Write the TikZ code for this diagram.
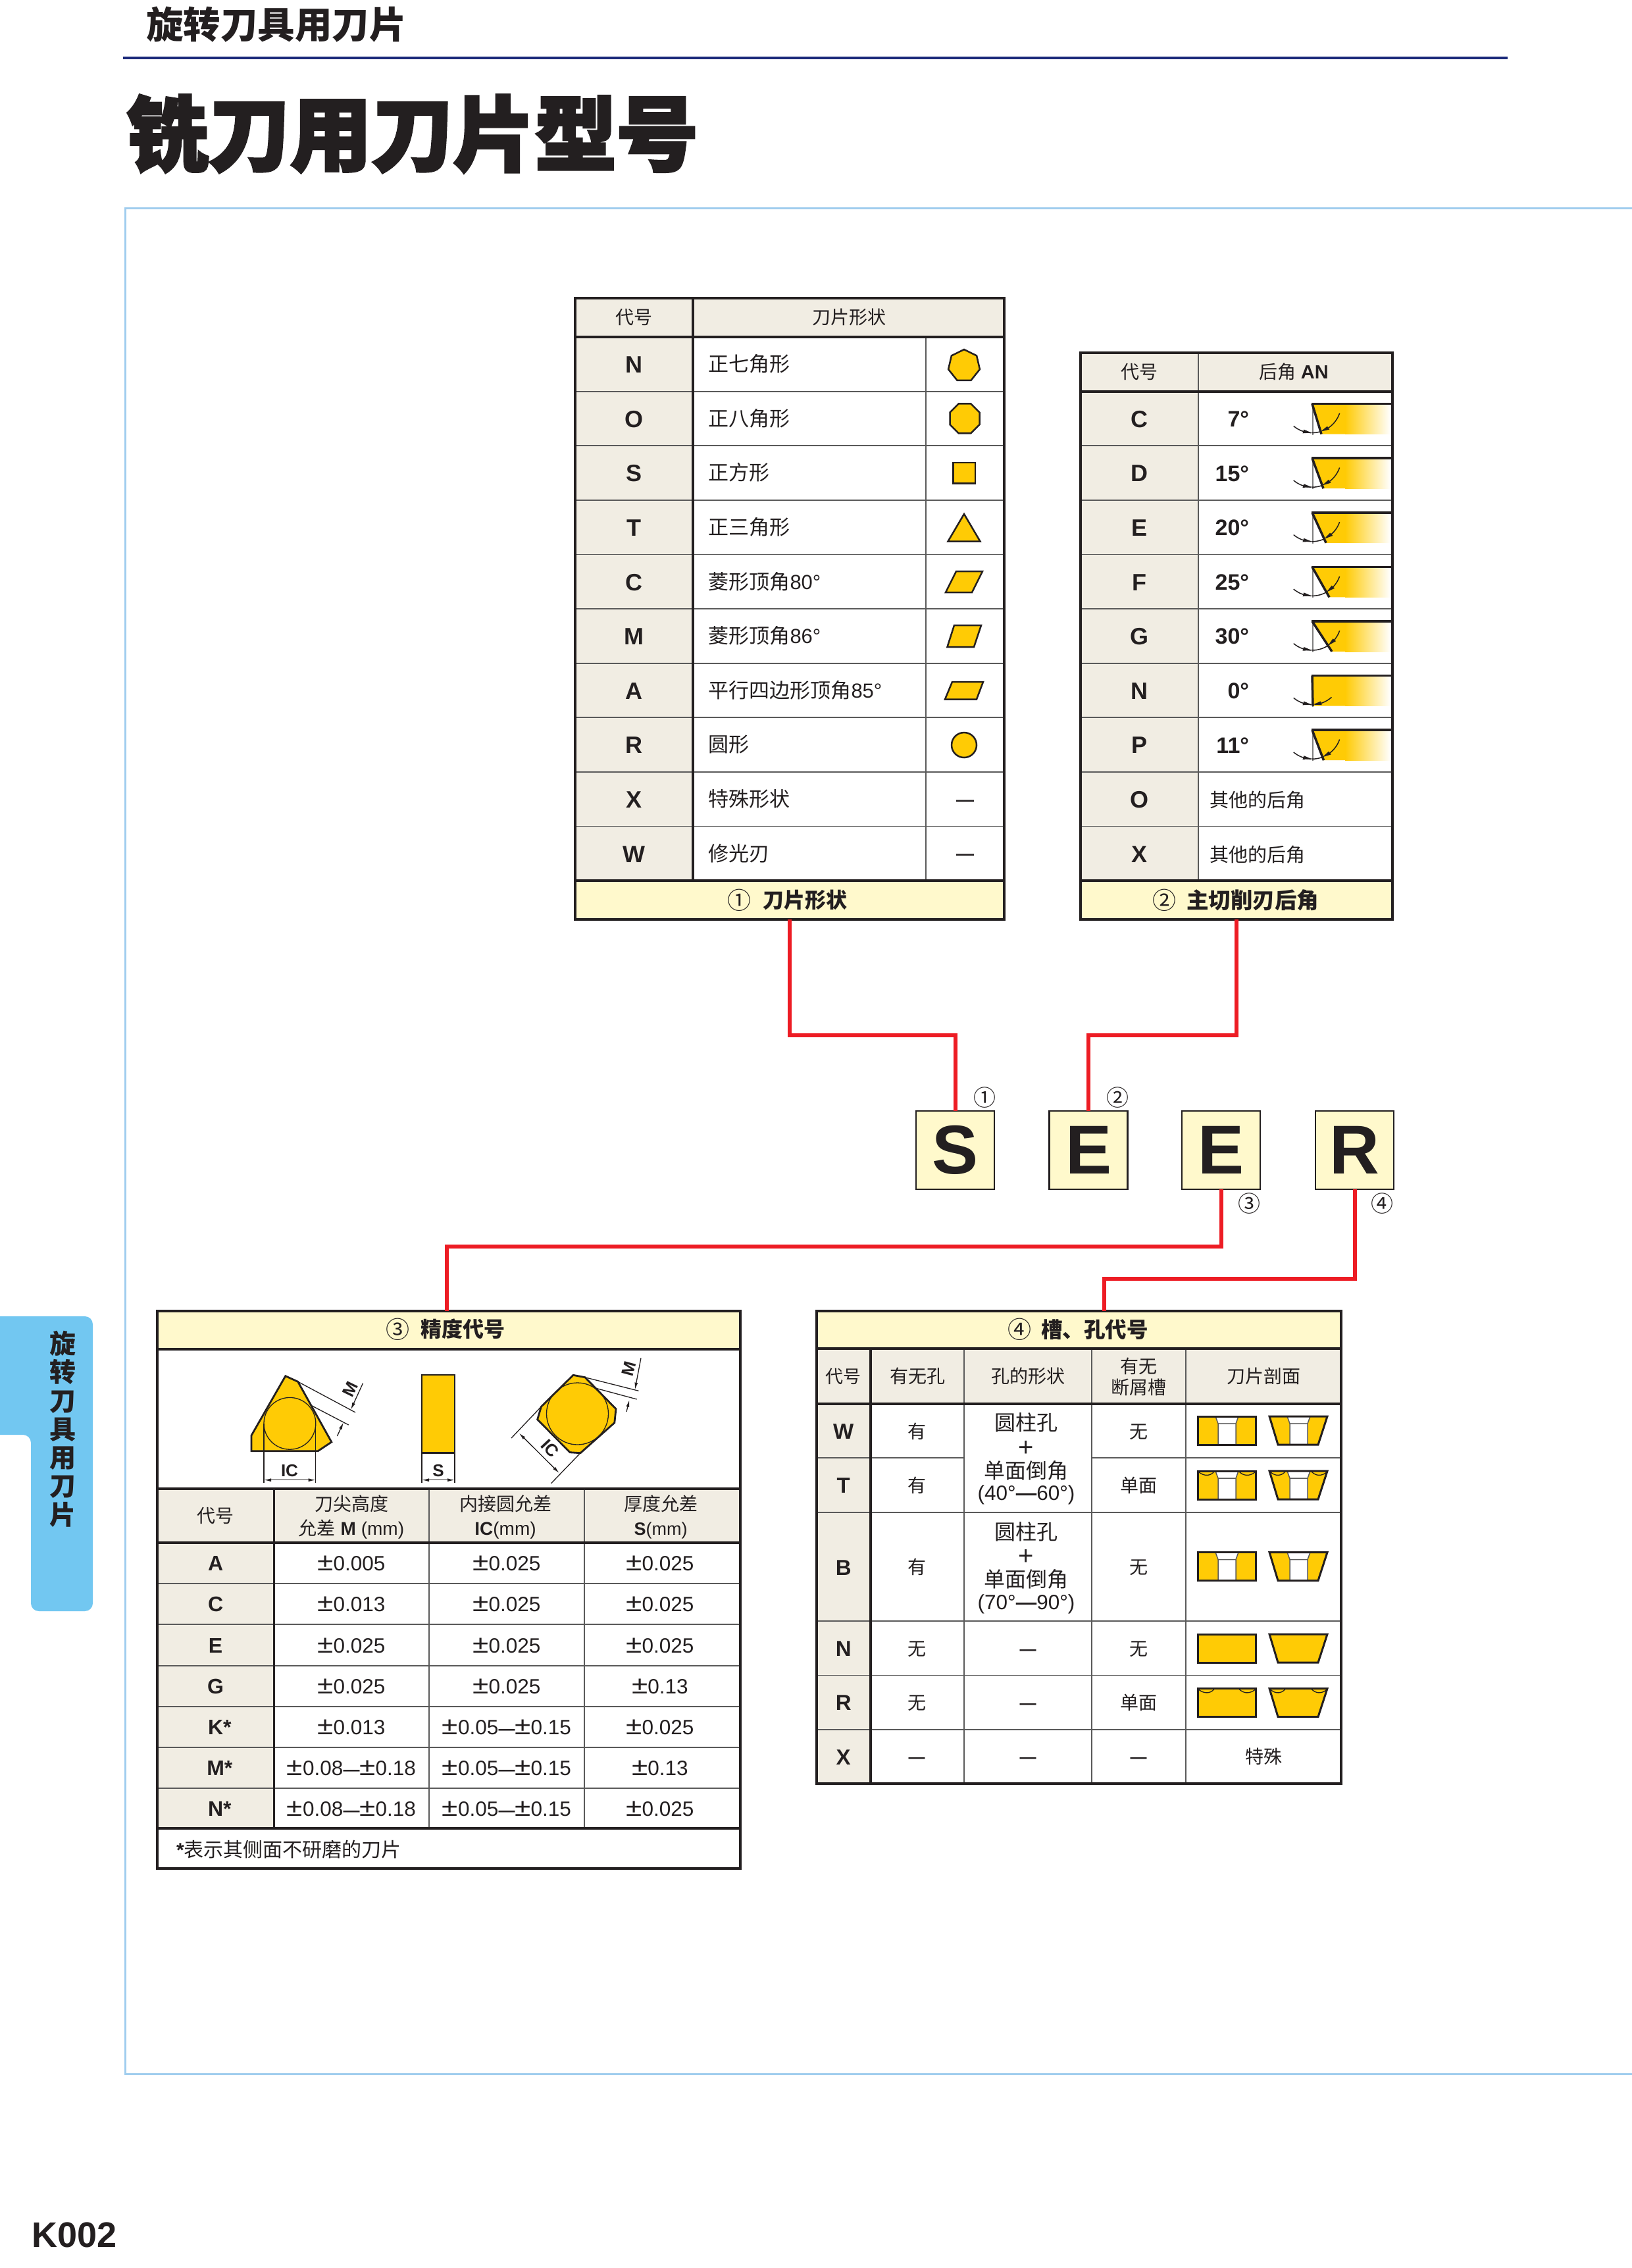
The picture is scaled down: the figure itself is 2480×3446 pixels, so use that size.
\documentclass[tikz,border=0pt]{standalone}
\usepackage{fontspec}
\usetikzlibrary{arrows.meta}
\setmainfont{Liberation Sans}
\newfontfamily\cjk{Noto Sans CJK SC}
\newfontfamily\cjkblack[FakeBold=3]{Noto Sans CJK SC Black}
\definecolor{ink}{HTML}{231F20}
\definecolor{rowline}{HTML}{5A5A5A}
\definecolor{headbg}{HTML}{F1EDE3}
\definecolor{bandbg}{HTML}{FFF9CC}
\definecolor{gold}{HTML}{FFCB05}
\definecolor{redline}{HTML}{ED1C24}
\definecolor{navy}{HTML}{1B2A7A}
\definecolor{tabblue}{HTML}{72C7F1}
\definecolor{framecol}{HTML}{A0CDEE}
\newcounter{tn}
\newcommand\tn[5][]{\stepcounter{tn}\pgfmathsetmacro\tnby{#3+.37*#4}\node[txtnode,#1] (t\arabic{tn}) at (#2,\tnby) {\fontsize{#4}{#4}\selectfont #5};}
\newcommand\pmv{\scalebox{1.4}[1.2]{±}}
\newcommand\rng[2]{\pmv#1{\fontsize{25}{25}\selectfont\bfseries—}\pmv#2}
% table 3 row
\newcommand\rowthree[5]{%
  \tn{327.6}{#1}{32}{\bfseries #2}
  \tn{534}{#1}{31.5}{#3}
  \tn{770}{#1}{31.5}{#4}
  \tn{1003}{#1}{31.5}{#5}}
% arrowhead on the radius-44 arc: tip angle, base angle
\newcommand\arctip[2]{\fill[ink] ({44*cos(#1)},{44*sin(#1)}) -- ({47*cos(#2)},{47*sin(#2)}) -- ({41*cos(#2)},{41*sin(#2)}) -- cycle;}
% blade icon: apex y, bottom dx, right arc start, is-N flag
\newcommand\blade[4]{%
  \begin{scope}[shift={(1994,#1)}]
    \pgfmathsetmacro\ts{atan2(46,#2)}
    \pgfmathsetmacro\tsb{\ts-17}
    \fill[gold] (0,0) -- (50.5,0) -- (50.5,46) -- (#2,46) -- cycle;
    \shade[left color=gold,right color=white] (50,0) rectangle (119,46);
    \draw[gray,line width=1.5] (1,0) -- (1,47);
    \draw[ink,line width=3.5] (0,0) -- (#2,46);
    \draw[ink,line width=3.5] (-1,0) -- (121,0);
    \draw[arcline] plot[domain=130:92,samples=12] ({44*cos(\x)},{44*sin(\x)});
    \arctip{91}{108}
    \draw[arcline] plot[domain=#3:\tsb,samples=14] ({44*cos(\x)},{44*sin(\x)});
    \arctip{\ts}{\tsb}
    \ifnum#4=0 \draw[arcline] plot[domain=91:\ts,samples=8] ({44*cos(\x)},{44*sin(\x)});\fi
  \end{scope}}
% section icons: top y, hole flag, arcs flag
\newcommand\secicons[3]{%
  \begin{scope}[shift={(0,#1)}]
    \fill[gold] (1820,0) rectangle (1908,43);
    \fill[gold] (1929,0) -- (2017,0) -- (2003,43) -- (1942,43) -- cycle;
    \ifnum#2=1
      \fill[white] (1847,0) -- (1851,11) -- (1851,43) -- (1878,43) -- (1878,11) -- (1882,0) -- cycle;
      \fill[white] (1956,0) -- (1960,11) -- (1960,43) -- (1987,43) -- (1987,11) -- (1991,0) -- cycle;
      \draw[rowline,line width=1.5] (1847,0) -- (1851,11) -- (1851,43) (1878,43) -- (1878,11) -- (1882,0) (1851,11) -- (1878,11);
      \draw[rowline,line width=1.5] (1956,0) -- (1960,11) -- (1960,43) (1987,43) -- (1987,11) -- (1991,0) (1960,11) -- (1987,11);
    \fi
    \ifnum#3=1
      \draw[ink,line width=1.3] (1822,2) .. controls (1830,8) and (1839,8) .. (1845,1);
      \draw[ink,line width=1.3] (1883,1) .. controls (1890,8) and (1899,8) .. (1907,2);
      \draw[ink,line width=1.3] (1931,2) .. controls (1938,8) and (1947,8) .. (1953,1);
      \draw[ink,line width=1.3] (1993,1) .. controls (2000,8) and (2008,8) .. (2016,2);
    \fi
    \draw[ink,line width=3] (1820,0) rectangle (1908,43);
    \draw[ink,line width=3,line join=miter] (1929,0) -- (2017,0) -- (2003,43) -- (1942,43) -- cycle;
  \end{scope}}
\tikzset{
  txtnode/.style={anchor=base,inner sep=0pt,outer sep=0pt,text=ink},
  leftnode/.style={anchor=base west},
  outerline/.style={draw=ink,line width=4},
  thick col/.style={draw=ink,line width=3.5},
  thin col/.style={draw=rowline,line width=1.8},
  row rule/.style={draw=rowline,line width=1.8},
  heavy rule/.style={draw=ink,line width=4},
  band/.style={rectangle,draw=ink,line width=4,fill=bandbg,inner sep=0pt,outer sep=0pt},
  letterbox/.style={rectangle,draw=ink,line width=2.5,fill=bandbg,inner sep=0pt,outer sep=0pt,minimum width=119,minimum height=119,text=ink,font=\fontsize{105}{105}\selectfont\bfseries},
  connector/.style={draw=redline,line width=6},
  insert/.style={draw=ink,fill=gold,line width=2.8,line join=miter},
  shapeicon/.style={draw=ink,fill=gold,line width=2.5,line join=miter},
  arcline/.style={draw=ink,fill=none,line width=1.5},
  dimline/.style={draw=ink,line width=1.3},
  dimarrow/.style={draw=ink,line width=1.3,{Latex[length=11pt,width=5pt]}-{Latex[length=11pt,width=5pt]}},
  dimtip/.style={draw=ink,line width=1.3,-{Latex[length=11pt,width=5pt]}},
}
\begin{document}
\begin{tikzpicture}[x=1pt,y=-1pt]
\useasboundingbox (0,0) rectangle (2480,3446);
\fill[white] (0,0) rectangle (2480,3446);
% page heading
\tn{420}{38}{56.5}{\cjk\bfseries 旋转刀具用刀片}
\draw[navy,line width=4] (187,88) -- (2291,88);
\tn{627}{204}{124}{\cjkblack 铣刀用刀片型号}
\draw[framecol,line width=3] (2480,316) -- (190,316) -- (190,3151) -- (2480,3151);
% side tab
\fill[tabblue] (0,2000) -- (129,2000) arc[start angle=-90,end angle=0,radius=12] -- (141,2436) arc[start angle=0,end angle=90,radius=12] -- (59,2448) arc[start angle=90,end angle=180,radius=12] -- (47,2192) arc[start angle=0,end angle=-90,radius=12] -- (0,2180) -- cycle;
\foreach \c [count=\i from 0] in {旋,转,刀,具,用,刀,片}{
  \pgfmathsetmacro\cy{2041.6+43.3*\i}
  \tn{95}{\cy}{40}{\cjk\bfseries \c}
}
\tn{113}{3394.5}{54}{\bfseries K002}

% ---------- table 1 ----------
\fill[headbg] (874,453) rectangle (1526,512);
\fill[headbg] (874,512) rectangle (1053,1338);
\foreach \i in {1,...,9}{\pgfmathsetmacro\yy{512+82.6*\i}\draw[row rule] (874,\yy) -- (1526,\yy);}
\draw[thick col] (1053,453) -- (1053,1338);
\draw[thin col] (1407,512) -- (1407,1338);
\draw[heavy rule] (874,512) -- (1526,512);
\draw[outerline] (874,453) rectangle (1526,1397);
\node[band,minimum width=652,minimum height=59] (band1) at (1200,1367.5) {};
\tn{963.5}{482.5}{28}{\cjk 代号}
\tn{1290}{482.5}{28}{\cjk 刀片形状}
\foreach \L/\txt [count=\i from 0] in {N/{\cjk 正七角形},O/{\cjk 正八角形},S/{\cjk 正方形},T/{\cjk 正三角形},C/{{\cjk 菱形顶角}80°},M/{{\cjk 菱形顶角}86°},A/{{\cjk 平行四边形顶角}85°},R/{\cjk 圆形},X/{\cjk 特殊形状},W/{\cjk 修光刃}}{
  \pgfmathsetmacro\cy{553.3+82.6*\i}
  \tn{963.5}{\cy}{36}{\bfseries \L}
  \tn[leftnode]{1076.5}{\cy}{31}{\txt}
}
\tn{1123}{1368}{36}{\cjk ①}
\tn{1223.5}{1368}{32}{\cjk\bfseries 刀片形状}
% shape icons
\draw[shapeicon] (1465,531) -- (1484.1,540.4) -- (1488.9,561.1) -- (1475.6,577.8) -- (1454.4,577.8) -- (1441.1,561.1) -- (1445.9,540.4) -- cycle;
\draw[shapeicon] (1456.7,613.4) -- (1475.3,613.4) -- (1488.5,626.6) -- (1488.5,645.2) -- (1475.3,658.4) -- (1456.7,658.4) -- (1443.5,645.2) -- (1443.5,626.6) -- cycle;
\draw[shapeicon] (1448.4,702.8) rectangle (1482,734.6);
\draw[shapeicon] (1465,781) -- (1489.5,822.6) -- (1440.5,822.6) -- cycle;
\draw[shapeicon] (1453,868) -- (1493,868) -- (1477,900) -- (1437,900) -- cycle;
\draw[shapeicon] (1450,950) -- (1491,950) -- (1480,983) -- (1439.5,983) -- cycle;
\draw[shapeicon] (1447,1036) -- (1494,1036) -- (1484,1062.5) -- (1436,1062.5) -- cycle;
\draw[shapeicon] (1465,1132) circle[radius=19];
\tn{1466.5}{1214}{27}{\bfseries —}
\tn{1466.5}{1296.5}{27}{\bfseries —}

% ---------- table 2 ----------
\fill[headbg] (1642,535.6) rectangle (2116,594.6);
\fill[headbg] (1642,594.6) rectangle (1821,1338);
\foreach \i in {1,...,8}{\pgfmathsetmacro\yy{594.6+82.6*\i}\draw[row rule] (1642,\yy) -- (2116,\yy);}
\blade{613.6}{14}{19}{0}
\blade{696.2}{17}{19}{0}
\blade{778.8}{21}{19}{0}
\blade{861.4}{26}{19}{0}
\blade{944}{30}{19}{0}
\blade{1026.6}{1}{48}{1}
\blade{1109.2}{17.5}{19}{0}
\draw[thin col] (1821,535.6) -- (1821,1338);
\draw[heavy rule] (1642,594.6) -- (2116,594.6);
\draw[outerline] (1642,535.6) rectangle (2116,1397);
\node[band,minimum width=474,minimum height=59] (band2) at (1879,1367.5) {};
\tn{1731}{565}{28}{\cjk 代号}
\tn{1966}{565}{28}{{\cjk 后角} {\bfseries\fontsize{29}{29}\selectfont AN}}
\foreach \L/\txt [count=\i from 0] in {C/7°,D/15°,E/20°,F/25°,G/30°,N/0°,P/11°}{
  \pgfmathsetmacro\cy{635.9+82.6*\i}
  \tn{1731.7}{\cy}{36}{\bfseries \L}
  \tn[anchor=base east]{1898}{\cy}{34}{\bfseries \txt}
}
\tn{1731.7}{1214.1}{36}{\bfseries O}
\tn[leftnode]{1838}{1216}{29}{\cjk 其他的后角}
\tn{1731.7}{1296.7}{36}{\bfseries X}
\tn[leftnode]{1838}{1299}{29}{\cjk 其他的后角}
\tn{1769}{1368}{36}{\cjk ②}
\tn{1903.5}{1368}{33.5}{\cjk\bfseries 主切削刃后角}

% ---------- code boxes ----------
\node[letterbox] (boxS) at (1451.5,1747.5) {S};
\node[letterbox] (boxE) at (1654,1747.5) {E};
\node[letterbox] (boxEb) at (1855.5,1747.5) {E};
\node[letterbox] (boxR) at (2058.5,1747.5) {R};
\tn{1496}{1668}{34}{\cjk ①}
\tn{1698}{1668}{34}{\cjk ②}
\tn{1898}{1829}{34}{\cjk ③}
\tn{2100}{1829}{34}{\cjk ④}

% ---------- table 3 ----------
\fill[headbg] (238.6,2262) rectangle (1124.5,2344);
\fill[headbg] (238.6,2344) rectangle (416.6,2778);
\foreach \yy in {2406,2468,2531,2593,2655,2717}{\draw[row rule] (238.6,\yy) -- (1124.5,\yy);}
\draw[thick col] (416.6,2262) -- (416.6,2778);
\draw[thin col] (652,2262) -- (652,2778);
\draw[thin col] (888,2262) -- (888,2778);
\draw[heavy rule] (238.6,2262) -- (1124.5,2262);
\draw[heavy rule] (238.6,2344) -- (1124.5,2344);
\draw[heavy rule] (238.6,2778) -- (1124.5,2778);
\draw[outerline] (238.6,1992) rectangle (1124.5,2839);
\node[band,minimum width=886,minimum height=58] (band3) at (681.5,2021) {};
\tn{604}{2020}{36}{\cjk ③}
\tn{703.5}{2020}{32}{\cjk\bfseries 精度代号}
% figure: triangle insert
\draw[insert] (433.8,2090.7) -- (452.7,2099.3) -- (503.8,2191) -- (483.2,2204.7) -- (382,2204.7) -- (382,2181) -- cycle;
\draw[dimline] (440.4,2162.8) circle[radius=39.4];
\draw[dimline] (401,2163) -- (401,2253) (479.7,2163) -- (479.7,2253);
\draw[dimarrow] (401,2248.7) -- (479.7,2248.7);
\tn{440}{2234}{26}{\bfseries IC}
\draw[dimline] (452.7,2099.3) -- (540,2146) (472.2,2135) -- (529.7,2165);
\draw[dimtip] (551.5,2101.7) -- (533,2142);
\draw[dimtip] (512.4,2182) -- (522,2161);
\tn[rotate=64]{540}{2105}{26}{\bfseries M}
% figure: side view
\draw[insert] (641,2089) rectangle (691,2207.7);
\draw[dimline] (641,2207.7) -- (641,2253) (691,2207.7) -- (691,2253);
\draw[dimarrow] (641,2248.7) -- (691,2248.7);
\tn{666}{2234}{26}{\bfseries S}
% figure: rhombic insert
\draw[insert] (871,2089.3) -- (889,2092.7) -- (936,2140.7) -- (933.8,2161.7) -- (882,2207.7) -- (866,2206.7) -- (816.7,2156.7) -- (822.4,2137.3) -- cycle;
\draw[dimline] (877.5,2148) circle[radius=47];
\draw[dimline] (822.4,2137.3) -- (777,2185) (882,2207.7) -- (837.3,2254);
\draw[dimarrow] (788.6,2177.3) -- (850,2238.3);
\tn[rotate=-47]{829}{2197}{26}{\bfseries IC}
\draw[dimline] (889,2092.7) -- (970.5,2113.3) (904.5,2109) -- (967.7,2126);
\draw[dimtip] (974,2063.3) -- (964.8,2111.7);
\draw[dimtip] (952,2145) -- (956.5,2126.7);
\tn[rotate=75]{964}{2072}{26}{\bfseries M}
% header
\tn{327.6}{2303}{28}{\cjk 代号}
\tn{534}{2285}{28}{\cjk 刀尖高度}
\tn{534}{2322}{28}{{\cjk 允差} {\bfseries\fontsize{28}{28}\selectfont M} {\fontsize{28}{28}\selectfont (mm)}}
\tn{768}{2285}{28}{\cjk 内接圆允差}
\tn{768}{2322}{28}{{\bfseries IC}(mm)}
\tn{1004}{2285}{28}{\cjk 厚度允差}
\tn{1004}{2322}{27}{{\bfseries S}(mm)}
\rowthree{2375}{A}{\pmv 0.005}{\pmv 0.025}{\pmv 0.025}
\rowthree{2437}{C}{\pmv 0.013}{\pmv 0.025}{\pmv 0.025}
\rowthree{2499.5}{E}{\pmv 0.025}{\pmv 0.025}{\pmv 0.025}
\rowthree{2562}{G}{\pmv 0.025}{\pmv 0.025}{\pmv 0.13}
\rowthree{2624}{K\rlap{*}}{\pmv 0.013}{\rng{0.05}{0.15}}{\pmv 0.025}
\rowthree{2686}{M\rlap{*}}{\rng{0.08}{0.18}}{\rng{0.05}{0.15}}{\pmv 0.13}
\rowthree{2747.5}{N\rlap{*}}{\rng{0.08}{0.18}}{\rng{0.05}{0.15}}{\pmv 0.025}
\tn[leftnode]{268}{2810}{30}{{\bfseries *}{\cjk 表示其侧面不研磨的刀片}}

% ---------- table 4 ----------
\fill[headbg] (1240.5,2049) rectangle (2038,2133);
\fill[headbg] (1240.5,2133) rectangle (1323,2710);
\draw[row rule] (1240.5,2215) -- (1465,2215) (1659,2215) -- (2038,2215);
\foreach \yy in {2297.6,2463,2545.5,2627.7}{\draw[row rule] (1240.5,\yy) -- (2038,\yy);}
\draw[thick col] (1323,2049) -- (1323,2710);
\draw[thin col] (1465,2049) -- (1465,2710);
\draw[thin col] (1659,2049) -- (1659,2710);
\draw[thin col] (1802,2049) -- (1802,2710);
\draw[heavy rule] (1240.5,2133) -- (2038,2133);
\draw[outerline] (1240.5,1992) rectangle (2038,2710);
\node[band,minimum width=797.5,minimum height=57] (band4) at (1639.25,2020.5) {};
\tn{1549}{2020}{36}{\cjk ④}
\tn{1663.5}{2020}{32.5}{\cjk\bfseries 槽、孔代号}
\tn{1281.7}{2091}{27}{\cjk 代号}
\tn{1394}{2091}{28}{\cjk 有无孔}
\tn{1562}{2091}{28}{\cjk 孔的形状}
\tn{1730}{2076.5}{28}{\cjk 有无}
\tn{1730}{2108}{28}{\cjk 断屑槽}
\tn{1920}{2091}{28}{\cjk 刀片剖面}
\tn{1281.7}{2174}{33}{\bfseries W}
\tn{1281.7}{2256}{33}{\bfseries T}
\tn{1281.7}{2381}{33}{\bfseries B}
\tn{1281.7}{2504}{33}{\bfseries N}
\tn{1281.7}{2586.5}{33}{\bfseries R}
\tn{1281.7}{2669}{33}{\bfseries X}
\tn{1393}{2175}{28}{\cjk 有}
\tn{1393}{2257}{28}{\cjk 有}
\tn{1393}{2381}{28}{\cjk 有}
\tn{1393}{2505}{28}{\cjk 无}
\tn{1393}{2587}{28}{\cjk 无}
\tn{1393}{2669}{25}{\bfseries —}
\tn{1559.5}{2161.7}{32}{\cjk 圆柱孔}
\tn{1559.5}{2198}{40}{+}
\tn{1559.5}{2235}{32}{\cjk 单面倒角}
\tn{1559.5}{2268}{31.5}{(40°{\bfseries—}60°)}
\tn{1559.5}{2328}{32}{\cjk 圆柱孔}
\tn{1559.5}{2363}{40}{+}
\tn{1559.5}{2400}{32}{\cjk 单面倒角}
\tn{1559.5}{2434}{31.5}{(70°{\bfseries—}90°)}
\tn{1562}{2505}{25}{\bfseries —}
\tn{1562}{2587}{25}{\bfseries —}
\tn{1562}{2669}{25}{\bfseries —}
\tn{1730}{2175}{28}{\cjk 无}
\tn{1730}{2257}{28}{\cjk 单面}
\tn{1730}{2381}{28}{\cjk 无}
\tn{1730}{2505}{28}{\cjk 无}
\tn{1730}{2587}{28}{\cjk 单面}
\tn{1730}{2669}{25}{\bfseries —}
\tn{1920}{2669}{28}{\cjk 特殊}
\secicons{2152}{1}{0}
\secicons{2235}{1}{1}
\secicons{2358.5}{1}{0}
\secicons{2483}{0}{0}
\secicons{2565.5}{0}{1}

% ---------- connectors ----------
\coordinate (elbowA) at (0,1573);
\coordinate (elbowB) at (679,1894);
\coordinate (elbowC) at (1678,1943);
\draw[connector] (band1.south) -- (band1.south |- elbowA) -| (boxS.north);
\draw[connector] (band2.south) -- (band2.south |- elbowA) -| (boxE.north);
\draw[connector] (boxEb.south) |- (elbowB) -- (elbowB |- band3.north);
\draw[connector] (boxR.south) |- (elbowC) -- (elbowC |- band4.north);
\end{tikzpicture}
\end{document}
